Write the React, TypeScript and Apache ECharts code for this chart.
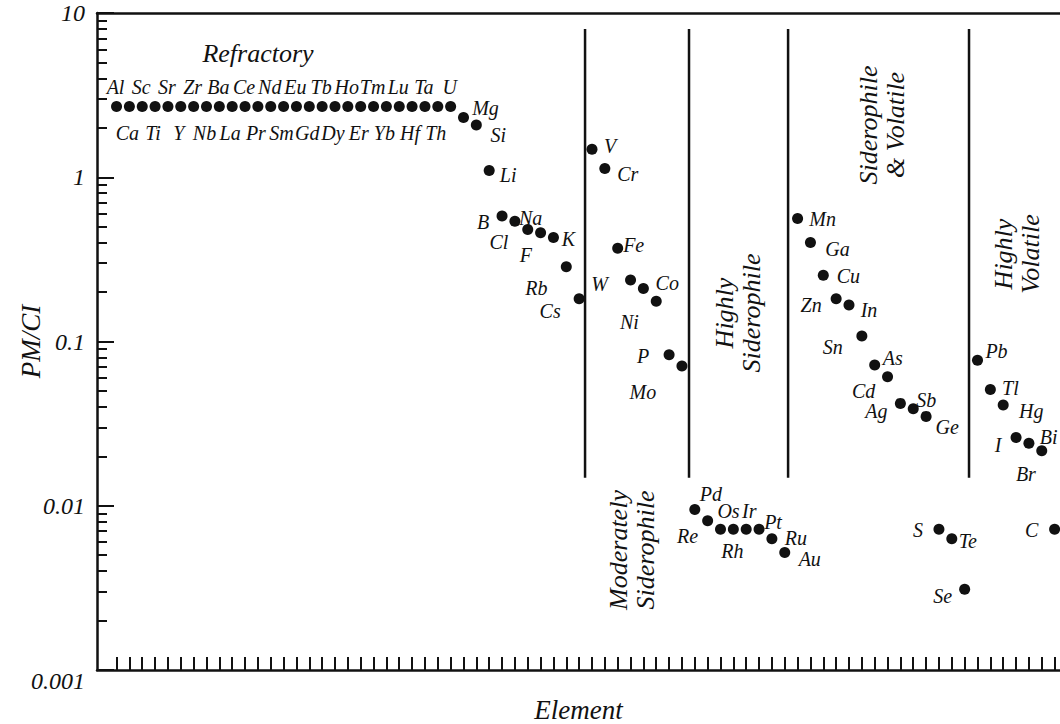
import React, { useEffect, useRef } from 'react';
import * as echarts from 'echarts';

// ---- Data -----------------------------------------------------------
const elements: string[] = [
  'Al', 'Ca', 'Sc', 'Ti', 'Sr', 'Y', 'Zr', 'Nb', 'Ba', 'La', 'Ce', 'Pr', 'Nd', 'Sm',
  'Eu', 'Gd', 'Tb', 'Dy', 'Ho', 'Er', 'Tm', 'Yb', 'Lu', 'Hf', 'Ta', 'Th', 'U',
  'Mg', 'Si', 'Li', 'B', 'Cl', 'F', 'Na', 'K', 'Rb', 'Cs',
  'V', 'Cr', 'Fe', 'W', 'Ni', 'Co', 'P', 'Mo',
  'Pd', 'Re', 'Os', 'Rh', 'Ir', 'Pt', 'Ru', 'Au',
  'Mn', 'Ga', 'Cu', 'Zn', 'In', 'Sn', 'As', 'Cd', 'Ag', 'Sb', 'Ge', 'S', 'Te', 'Se',
  'Pb', 'Tl', 'Hg', 'I', 'Br', 'Bi', 'C',
];

const refractoryValues: number[] = [
  2.7, 2.7, 2.7, 2.7, 2.7, 2.7, 2.7, 2.7, 2.7, 2.7, 2.7, 2.7, 2.7, 2.7,
  2.7, 2.7, 2.7, 2.7, 2.7, 2.7, 2.7, 2.7, 2.7, 2.7, 2.7, 2.7, 2.7,
];
const moderatelyVolatileValues: number[] = [2.31, 2.08, 1.1, 0.58, 0.54, 0.48, 0.46, 0.43, 0.285, 0.182];
const moderatelySiderophileValues: number[] = [1.48, 1.13, 0.37, 0.237, 0.21, 0.176, 0.083, 0.071];
const highlySiderophileValues: number[] = [0.0095, 0.0081, 0.0072, 0.0072, 0.0072, 0.0072, 0.0063, 0.0052];
const siderophileVolatileValues: number[] = [
  0.56, 0.4, 0.253, 0.182, 0.167, 0.108, 0.072, 0.061, 0.042, 0.039, 0.035, 0.0072, 0.0063, 0.0031,
];
const highlyVolatileValues: number[] = [0.077, 0.051, 0.041, 0.026, 0.024, 0.0216, 0.0072];

const values: number[] = [
  ...refractoryValues,
  ...moderatelyVolatileValues,
  ...moderatelySiderophileValues,
  ...highlySiderophileValues,
  ...siderophileVolatileValues,
  ...highlyVolatileValues,
];

// group boundaries in element-index units, and their vertical extent (PM/CI)
const groupBoundaries: number[] = [36.46, 44.55, 52.26, 66.34];
const boundaryTop = 8;
const boundaryBottom = 0.0148;

const yTickLabels: string[] = ['0.001', '0.01', '0.1', '1', '10'];

// ---- Layout / style -------------------------------------------------
const X_MIN = -1.52;
const X_MAX = 73.42;
const FONT = '"Liberation Serif", "DejaVu Serif", serif';
const INK = '#111111';

// label offset [dx, dy] of each element's name relative to its dot
const labelOffsets: Record<string, [number, number]> = {
  Mg: [22, -10], Si: [22, 10], Li: [19, 5], B: [-19, 6], Cl: [-16, 21], F: [-2, 25],
  Na: [-10, -15], K: [15, 2], Rb: [-30, 21], Cs: [-29, 12],
  V: [18, -3], Cr: [23, 5], Fe: [16, -3], W: [-31, 4], Ni: [-14, 33], Co: [11, -18],
  P: [-26, 1], Mo: [-39, 26],
  Pd: [16, -15], Re: [-20, 15], Os: [8, -18], Rh: [-1, 22], Ir: [3, -18], Pt: [14, -7],
  Ru: [24, -1], Au: [25, 7],
  Mn: [25, 0], Ga: [27, 6], Cu: [25, 1], Zn: [-25, 6], In: [20, 5], Sn: [-29, 11],
  As: [18, -7], Cd: [-24, 14], Ag: [-24, 8], Sb: [13, -9], Ge: [21, 11],
  S: [-21, 1], Te: [16, 2], Se: [-22, 7],
  Pb: [19, -9], Tl: [20, -2], Hg: [28, 6], I: [-18, 7], Br: [-3, 31], Bi: [7, -14], C: [-23, 1],
};

function offsetFor(name: string, i: number): [number, number] {
  if (labelOffsets[name]) return labelOffsets[name];
  return i % 2 === 0 ? [-1, -19] : [-2, 27];
}

export default function App() {
  const ref = useRef<HTMLDivElement>(null);

  useEffect(() => {
    if (!ref.current) return;
    const chart = echarts.init(ref.current, undefined, { renderer: 'svg' });

    const xTicks = elements.map((_, i) => i);
    const minorExp: number[] = [];
    for (let d = -3; d < 1; d++) {
      for (let m = 2; m <= 9; m++) minorExp.push(d + Math.log10(m));
    }

    const textBase = { fontFamily: FONT, fontStyle: 'italic' as const, color: INK };

    const pointData = elements.map((name, i) => ({
      name,
      value: [i, values[i]],
      label: { offset: offsetFor(name, i) },
    }));

    const boundarySeries = groupBoundaries.map((b) => ({
      type: 'line',
      data: [[b, boundaryTop], [b, boundaryBottom]],
      symbol: 'none',
      silent: true,
      lineStyle: { color: INK, width: 2.5 },
      z: 1,
    }));

    const groupLabel = (text: string, x: number, y: number, rotate: boolean) => ({
      type: 'text',
      x,
      y,
      rotation: rotate ? Math.PI / 2 : 0,
      style: {
        text,
        fill: INK,
        font: `italic 26px ${FONT}`,
        align: 'center',
        verticalAlign: 'middle',
        lineHeight: 27,
      },
    });

    chart.setOption({
      animation: false,
      backgroundColor: '#ffffff',
      grid: {
        left: 97,
        right: 0,
        top: 13,
        bottom: 54,
        containLabel: false,
        outerBoundsMode: 'none',
      },
      xAxis: [
        {
          type: 'value',
          min: X_MIN,
          max: X_MAX,
          position: 'bottom',
          axisLine: { show: true, onZero: false, lineStyle: { color: INK, width: 2.5 } },
          axisTick: {
            show: true,
            inside: true,
            length: 13,
            customValues: xTicks,
            lineStyle: { color: INK, width: 2 },
          },
          axisLabel: { show: false },
          splitLine: { show: false },
          name: 'Element',
          nameLocation: 'middle',
          nameGap: 26,
          nameMoveOverlap: false,
          nameTextStyle: { ...textBase, fontSize: 27 },
        },
        {
          type: 'value',
          min: X_MIN,
          max: X_MAX,
          position: 'top',
          axisLine: { show: true, onZero: false, lineStyle: { color: INK, width: 2.5 } },
          axisTick: { show: false },
          axisLabel: { show: false },
          splitLine: { show: false },
        },
      ],
      yAxis: [
        {
          type: 'log',
          logBase: 10,
          min: 0.001,
          max: 10,
          position: 'left',
          axisLine: { show: true, onZero: false, lineStyle: { color: INK, width: 2.5 } },
          axisTick: { show: true, inside: true, length: 17, lineStyle: { color: INK, width: 2 } },
          minorTick: { show: false },
          splitLine: { show: false },
          axisLabel: {
            margin: 12,
            formatter: (v: number) => {
              const t = yTickLabels[Math.round(Math.log10(v)) + 3];
              return t === '0.001' ? `{low|${t}}` : `{n|${t}}`;
            },
            rich: {
              n: { ...textBase, fontSize: 24 },
              low: { ...textBase, fontSize: 24, lineHeight: 46, verticalAlign: 'bottom' },
            },
          },
          name: 'PM/CI',
          nameLocation: 'middle',
          nameGap: 53,
          nameMoveOverlap: false,
          nameRotate: 90,
          nameTextStyle: { ...textBase, fontSize: 27 },
        },
        {
          type: 'value',
          min: -3,
          max: 1,
          position: 'left',
          axisLine: { show: false, onZero: false },
          axisTick: {
            show: true,
            inside: true,
            length: 10,
            customValues: minorExp,
            lineStyle: { color: INK, width: 2 },
          },
          axisLabel: { show: false },
          splitLine: { show: false },
        },
      ],
      series: [
        ...boundarySeries,
        {
          type: 'scatter',
          data: pointData,
          symbol: 'circle',
          symbolSize: 11,
          itemStyle: { color: INK, opacity: 1 },
          z: 3,
          label: {
            show: true,
            position: 'inside',
            formatter: '{b}',
            ...textBase,
            fontSize: 20,
            align: 'center',
            verticalAlign: 'middle',
          },
        },
      ],
      graphic: [
        groupLabel('Refractory', 258, 53, false),
        groupLabel('Moderately\nSiderophile', 632, 550, true),
        groupLabel('Highly\nSiderophile', 738, 313, true),
        groupLabel('Siderophile\n& Volatile', 882, 125, true),
        groupLabel('Highly\nVolatile', 1017, 254, true),
      ],
    });

    return () => chart.dispose();
  }, []);

  return (
    <div
      ref={ref}
      style={{ position: 'absolute', left: 0, top: 0, width: 1060, height: 724, background: '#fff' }}
    />
  );
}
